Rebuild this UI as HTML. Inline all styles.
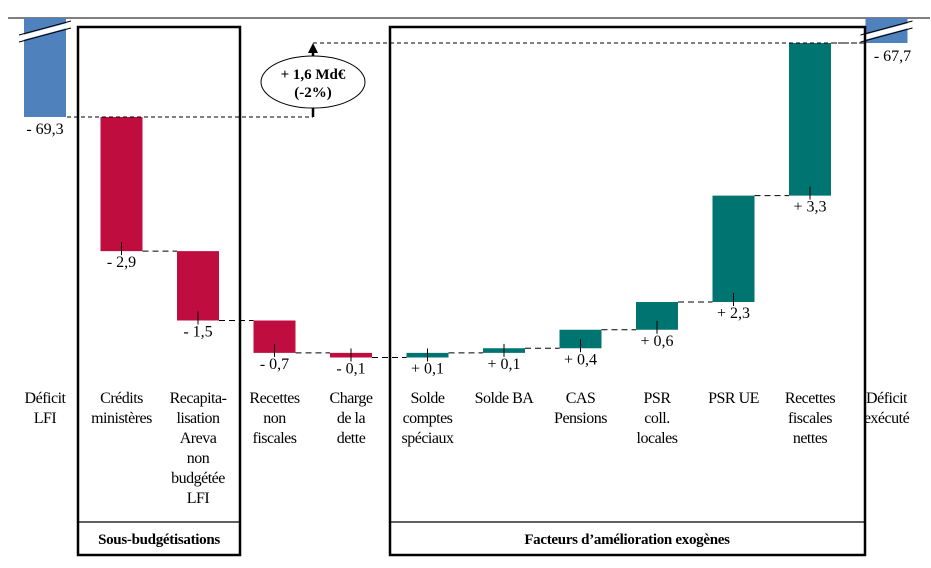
<!DOCTYPE html>
<html><head><meta charset="utf-8"><style>
body{margin:0;background:#fff;}
svg text{font-family:"Liberation Serif",serif;}
</style></head><body>
<svg id="chart" width="931" height="563" xmlns="http://www.w3.org/2000/svg">
<line x1="8" y1="18" x2="930" y2="18" stroke="#000" stroke-width="1"/>
<g id="bars"></g>
<g id="labels"></g>
<g>
<rect x="78" y="27" width="162" height="528" fill="none" stroke="#000" stroke-width="2.5"/>
<line x1="78" y1="522" x2="240" y2="522" stroke="#000" stroke-width="1.2"/>
<text x="159" y="544" text-anchor="middle" font-size="15" font-weight="bold" letter-spacing="-0.3">Sous-budgétisations</text>
</g>
<g>
<rect x="390" y="27" width="475" height="528" fill="none" stroke="#000" stroke-width="2.5"/>
<line x1="390" y1="522" x2="865" y2="522" stroke="#000" stroke-width="1.2"/>
<text x="627" y="544" text-anchor="middle" font-size="15" font-weight="bold" letter-spacing="-0.3">Facteurs d’amélioration exogènes</text>
</g>
<g>
<line x1="67" y1="117" x2="313" y2="117" stroke="#000" stroke-dasharray="4,3"/>
<line x1="313" y1="43" x2="866" y2="43" stroke="#000" stroke-dasharray="4,3"/>
<line x1="313" y1="117" x2="313" y2="50" stroke="#000" stroke-width="2.5"/>
<polygon points="313,43 308,53 318,53" fill="#000"/>
<ellipse cx="313" cy="82" rx="52" ry="26" fill="#fff" stroke="#000"/>
<text x="313" y="79" text-anchor="middle" font-size="15" font-weight="bold">+ 1,6 Md€</text>
<text x="313" y="97" text-anchor="middle" font-size="15" font-weight="bold">(-2%)</text>
</g>
</svg>
<script>
const categories=[["Déficit","LFI"],["Crédits","ministères"],["Recapita-","lisation","Areva","non","budgétée","LFI"],["Recettes","non","fiscales"],["Charge","de la","dette"],["Solde","comptes","spéciaux"],["Solde BA"],["CAS","Pensions"],["PSR","coll.","locales"],["PSR UE"],["Recettes","fiscales","nettes"],["Déficit","exécuté"]];
const startValue=-69.3;
const deltas=[-2.9,-1.5,-0.7,-0.1,0.1,0.1,0.4,0.6,2.3,3.3];
const endValue=-67.7;
const valueLabels=["- 69,3","- 2,9","- 1,5","- 0,7","- 0,1","+ 0,1","+ 0,1","+ 0,4","+ 0,6","+ 2,3","+ 3,3","- 67,7"];
const NS="http://www.w3.org/2000/svg";
const bars=document.getElementById('bars'),labs=document.getElementById('labels');
function y(v){return 117+(-69.3-v)*46.25;}
function x(i){return 45+i*76.5;}
const W=42;
function el(t,a,p){const e=document.createElementNS(NS,t);for(const k in a)e.setAttribute(k,a[k]);p.appendChild(e);return e;}
let r=el('rect',{x:x(0)-21,y:18,width:W,height:y(startValue)-18,fill:'#4f81bd'},bars);


let r2=el('rect',{x:x(11)-21,y:18,width:W,height:y(endValue)-18,fill:'#4f81bd'},bars);


[0,11].forEach(i=>{el('polygon',{points:`${x(i)-26},36 ${x(i)+26},22 ${x(i)+26},27 ${x(i)-26},41`,fill:'#fff'},bars);
el('line',{x1:x(i)-26,y1:35,x2:x(i)+26,y2:21,stroke:'#000'},bars);el('line',{x1:x(i)-26,y1:42,x2:x(i)+26,y2:28,stroke:'#000'},bars);});
let t0=el('text',{x:x(0),y:y(startValue)+17,'text-anchor':'middle','font-size':16},labs);t0.textContent=valueLabels[0];
let t1=el('text',{x:x(11)+6,y:y(endValue)+18,'text-anchor':'middle','font-size':16},labs);t1.textContent=valueLabels[11];
let cur=startValue;
deltas.forEach((d,k)=>{const i=k+1;const nv=cur+d;const top=y(Math.max(cur,nv)),bot=y(Math.min(cur,nv));
const b=el('rect',{x:x(i)-21,y:top,width:W,height:Math.max(bot-top,4),fill:d<0?'#c00d3f':'#007470'},bars);


const by=Math.max(bot,top+4);
el('line',{x1:x(i),y1:by-9,x2:x(i),y2:by+4,stroke:'#000'},bars);
const lv=y(nv);
el('line',{x1:x(i)+21,y1:lv,x2:x(i+1)-21,y2:lv,stroke:'#000','stroke-dasharray':'6,4'},bars);
const tv=el('text',{x:x(i),y:by+16,'text-anchor':'middle','font-size':16},labs);tv.textContent=valueLabels[i];
cur=nv;});
categories.forEach((c,i)=>{c.forEach((s,j)=>{const t=el('text',{x:x(i),y:403+j*20,'text-anchor':'middle','font-size':16,'letter-spacing':'-0.5'},labs);t.textContent=s;});});
</script>
</body></html>
